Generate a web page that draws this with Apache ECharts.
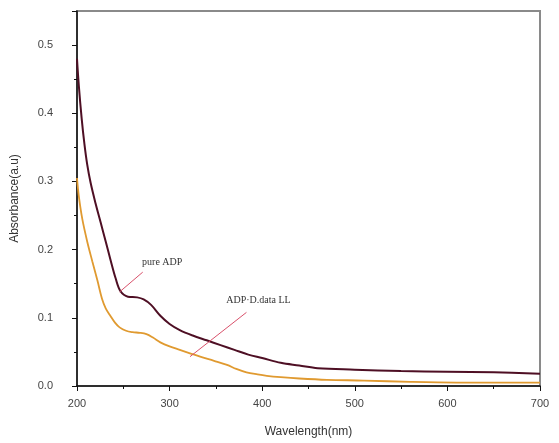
<!DOCTYPE html>
<html>
<head>
<meta charset="utf-8">
<script src="https://cdn.jsdelivr.net/npm/echarts@6/dist/echarts.min.js"></script>
<style>html,body{margin:0;padding:0;background:#fff}#c{width:559px;height:443px}</style>
</head>
<body>
<div id="c"></div>
<script>
const pureWl  = [200,202,205,208,211,214.7,220,225.5,231,236,241.7,247,255,265,272,280,290,300,311,325,340,355,370,385,400,420,440,460,500,550,600,650,700];
const pureAbs = [0.48,0.44,0.393,0.355,0.325,0.298,0.268,0.240,0.212,0.186,0.158,0.139,0.131,0.130,0.127,0.119,0.103,0.091,0.082,0.074,0.067,0.060,0.053,0.046,0.041,0.034,0.030,0.026,0.024,0.022,0.021,0.020,0.018];
const dataWl  = [200,202,205.7,211,216.5,222,227,231,236,241,246,253,260,268,275,282,290,300,311,322,333,348,362,372,383,395,405,420,440,470,510,560,610,700];
const dataAbs = [0.305,0.278,0.245,0.212,0.183,0.155,0.128,0.114,0.103,0.093,0.086,0.081,0.079,0.078,0.076,0.071,0.064,0.058,0.053,0.048,0.043,0.037,0.031,0.025,0.020,0.017,0.015,0.013,0.011,0.009,0.008,0.006,0.005,0.005];
const xTicks = [200,300,400,500,600,700];
const yTicks = [0.0,0.1,0.2,0.3,0.4,0.5];
const labelPure = 'pure ADP';
const labelData = 'ADP·D.data LL';
const pureArrow = [[271,0.167],[246,0.138]];
const dataArrow = [[383,0.108],[322,0.043]];
const pureLabelAt = [292,0.181];
const dataLabelAt = [396,0.1255];

const zip = (a,b) => a.map((v,i)=>[v,b[i]]);
const chart = echarts.init(document.getElementById('c'));
chart.setOption({
  animation:false,
  grid:{left:77,right:19,top:11,bottom:57,show:true,borderColor:'#8a8a8a',borderWidth:2},
  xAxis:{type:'value',min:200,max:700,interval:100,
    name:'Wavelength(nm)',nameLocation:'middle',nameGap:40,
    nameTextStyle:{fontFamily:'Liberation Sans',fontSize:12,color:'#333'},
    axisLine:{lineStyle:{color:'#111',width:1.5}},
    axisTick:{show:true,length:5,lineStyle:{color:'#111'}},
    minorTick:{show:true,splitNumber:2,length:3,lineStyle:{color:'#111'}},
    splitLine:{show:false},
    axisLabel:{fontFamily:'Liberation Sans',fontSize:11,color:'#444',margin:12,
      formatter:v=>xTicks.includes(v)?String(v):''}},
  yAxis:{type:'value',min:0,max:0.55,interval:0.1,
    name:'Absorbance(a.u)',nameLocation:'middle',nameGap:56,
    nameTextStyle:{fontFamily:'Liberation Sans',fontSize:12,color:'#333'},
    axisLine:{show:true,lineStyle:{color:'#111',width:1.5}},
    axisTick:{show:true,length:5,lineStyle:{color:'#111'}},
    minorTick:{show:true,splitNumber:2,length:3,lineStyle:{color:'#111'}},
    splitLine:{show:false},
    axisLabel:{fontFamily:'Liberation Sans',fontSize:11,color:'#444',margin:24,showMaxLabel:false,
      formatter:v=>{const t=yTicks.find(k=>Math.abs(k-v)<1e-6);return t===undefined?'':t.toFixed(1);}}},
  series:[
    {type:'line',data:zip(pureWl,pureAbs),smooth:0.35,symbol:'none',
      lineStyle:{color:'#4e0f24',width:2},
      markLine:{silent:true,symbol:'none',label:{show:false},
        lineStyle:{color:'#d8506a',width:1,type:'solid'},
        data:[[{coord:pureArrow[0]},{coord:pureArrow[1]}],[{coord:dataArrow[0]},{coord:dataArrow[1]}]]},
      markPoint:{silent:true,symbol:'circle',symbolSize:0,
        label:{show:true,fontFamily:'Liberation Serif',fontSize:10,color:'#333'},
        data:[{coord:pureLabelAt,value:labelPure,label:{formatter:labelPure}},
              {coord:dataLabelAt,value:labelData,label:{formatter:labelData}}]}},
    {type:'line',data:zip(dataWl,dataAbs),smooth:0.35,symbol:'none',
      lineStyle:{color:'#e09a30',width:1.8}}
  ]
});
</script>
</body>
</html>
